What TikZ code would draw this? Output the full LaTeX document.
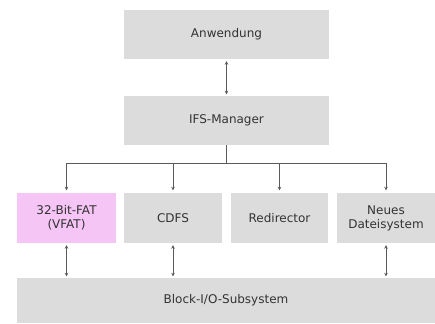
\documentclass[tikz,border=0pt]{standalone}
\usepackage{fontspec}
\setmainfont{DejaVu Sans}
\usetikzlibrary{arrows.meta}
\definecolor{boxgray}{HTML}{DCDCDC}
\definecolor{boxpink}{HTML}{F5C6F5}
\definecolor{linegray}{HTML}{5A5A5A}
\begin{document}
\begin{tikzpicture}[x=1pt,y=-1pt,
  blk/.style={fill=boxgray, draw=none, inner sep=0pt, align=center, font=\fontsize{12}{14}\selectfont, text=black!80},
  conn/.style={draw=linegray, line width=0.7pt, -{Stealth[length=3.5pt,width=3.5pt]}},
  bconn/.style={draw=linegray, line width=0.7pt, {Stealth[length=3.5pt,width=3.5pt]}-{Stealth[length=3.5pt,width=3.5pt]}, shorten <=2pt, shorten >=1.5pt}]
\useasboundingbox (0,0) rectangle (435,323);
\node[blk, minimum width=205pt, minimum height=49pt] (anw) at (226.5,34.5) {Anwendung};
\node[blk, minimum width=205pt, minimum height=49pt] (ifs) at (226.5,120.5) {IFS-Manager};
\node[blk, fill=boxpink, minimum width=99pt, minimum height=50pt] (vfat) at (66.5,218) {32-Bit-FAT\\(VFAT)};
\node[blk, minimum width=98pt, minimum height=50pt] (cdfs) at (173,218) {CDFS};
\node[blk, minimum width=97pt, minimum height=50pt] (redir) at (279.5,218) {Redirector};
\node[blk, minimum width=98pt, minimum height=50pt] (neu) at (386,218) {Neues\\Dateisystem};
\node[blk, minimum width=418pt, minimum height=45pt] (block) at (226,300.5) {Block-I/O-Subsystem};
\coordinate (bus) at (226.5,163);
\draw[bconn] (anw.south) -- (ifs.north);
\draw[draw=linegray, line width=0.7pt] (ifs.south) -- (bus);
\draw[conn, shorten >=2.5pt] (bus) -| (vfat.north);
\draw[conn, shorten >=2.5pt] (bus) -| (cdfs.north);
\draw[conn, shorten >=2.5pt] (bus) -| (redir.north);
\draw[conn, shorten >=2.5pt] (bus) -| (neu.north);
\draw[bconn] (vfat.south) -- (vfat.south |- block.north);
\draw[bconn] (cdfs.south) -- (cdfs.south |- block.north);
\draw[bconn] (neu.south) -- (neu.south |- block.north);
\end{tikzpicture}
\end{document}
